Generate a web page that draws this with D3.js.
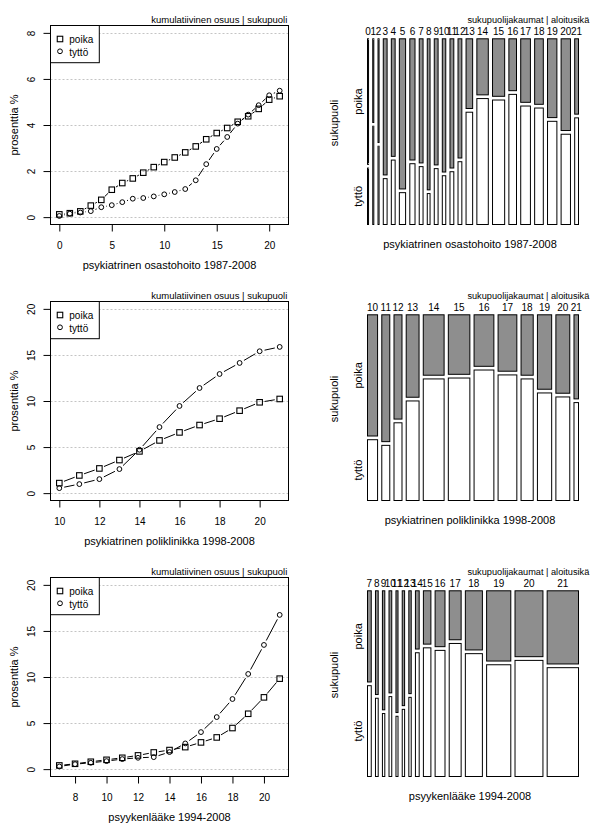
<!DOCTYPE html>
<html><head><meta charset="utf-8">
<script src="https://cdn.jsdelivr.net/npm/d3@7"></script>
<style>
body{margin:0;background:#fff}
svg{display:block}
text{font-family:"Liberation Sans",Arial,sans-serif;fill:#000}
</style>
</head><body>
<script>
// ---------- DATA ----------
// cumulative share (%) by starting age, panel 1: psykiatrinen osastohoito 1987-2008
const ages1 = [0,1,2,3,4,5,6,7,8,9,10,11,12,13,14,15,16,17,18,19,20,21];
const poika1 = [0.12,0.17,0.25,0.5,0.75,1.19,1.48,1.68,1.93,2.17,2.39,2.59,2.81,3.07,3.38,3.65,3.87,4.14,4.38,4.7,5.1,5.25];
const tytto1 = [0.05,0.15,0.2,0.26,0.43,0.52,0.65,0.8,0.83,0.9,0.99,1.09,1.22,1.6,2.3,2.96,3.48,4.06,4.45,4.86,5.29,5.49];
// panel 2: psykiatrinen poliklinikka 1998-2008
const ages2 = [10,11,12,13,14,15,16,17,18,19,20,21];
const poika2 = [1.09,1.92,2.68,3.59,4.53,5.72,6.59,7.39,8.08,8.95,9.86,10.22];
const tytto2 = [0.54,0.98,1.52,2.61,4.71,7.17,9.46,11.41,12.93,14.13,15.4,15.87];
// panel 3: psyykenlääke 1994-2008
const ages3 = [7,8,9,10,11,12,13,14,15,16,17,18,19,20,21];
const poika3 = [0.4,0.58,0.8,1.01,1.23,1.49,1.81,2.07,2.39,2.9,3.44,4.46,6.01,7.79,9.82];
const tytto3 = [0.29,0.54,0.69,0.87,1.09,1.23,1.3,1.85,2.79,4.02,5.65,7.61,10.33,13.48,16.74];

// mosaic: relative size of each age group and share of girls (tyttö)
const size1 = [1,1,1,3.67,3.67,6,5,3.67,2.67,3.67,3.33,3.67,3.67,6.33,11,11.67,7.33,9.33,8.33,9,9,3.67];
const girl1 = [0.31,0.54,0.43,0.252,0.354,0.175,0.334,0.318,0.17,0.307,0.268,0.29,0.345,0.617,0.692,0.684,0.715,0.651,0.64,0.567,0.496,0.586];
const size2 = [9.67,7.67,7.67,12.33,20,20.67,19,18,11.67,13.67,13.33,4.33];
const girl2 = [0.334,0.303,0.427,0.547,0.668,0.673,0.717,0.69,0.668,0.591,0.569,0.538];
const size3 = [3.67,2.67,2.33,2.67,2,2.33,2.33,3.67,7.33,9.67,11.67,16.67,23.67,27.33,30.67];
const girl3 = [0.499,0.43,0.346,0.439,0.331,0.369,0.435,0.68,0.707,0.693,0.731,0.675,0.614,0.638,0.598];

// axis ticks
const xTicks1 = [0,5,10,15,20], yTicks1 = [0,2,4,6,8];
const xTicks2 = [10,12,14,16,18,20], yTicks2 = [0,5,10,15,20];
const xTicks3 = [8,10,12,14,16,18,20], yTicks3 = [0,5,10,15,20];

const xLabels = ["psykiatrinen osastohoito 1987-2008","psykiatrinen poliklinikka 1998-2008","psyykenlääke 1994-2008"];
const seriesNames = ["poika","tyttö"];
const leftTitle = "kumulatiivinen osuus | sukupuoli";
const rightTitle = "sukupuolijakaumat | aloitusikä";
const yLabelLeft = "prosenttia %";
const yLabelRight = "sukupuoli";

// ---------- DRAW ----------
const svg = d3.select("body").append("svg").attr("width",604).attr("height",828);
const rowH = 276;
const BL = 50.5, BR = 288.5, BT = 25.5, BB = 224.5;

function expand(lo, hi){ const d=(hi-lo)*0.04; return [lo-d, hi+d]; }

function linePanel(row, ages, poika, tytto, xTicks, yTicks, yMax, xlabel){
  const g = svg.append("g").attr("transform",`translate(0,${row*rowH})`);
  const x = d3.scaleLinear().domain(expand(d3.min(ages), d3.max(ages))).range([BL,BR]);
  const y = d3.scaleLinear().domain(expand(0, yMax)).range([BB,BT]);
  // grid
  g.selectAll("line.grid").data(yTicks).enter().append("line")
    .attr("x1",BL).attr("x2",BR).attr("y1",d=>Math.round(y(d))+0.5).attr("y2",d=>Math.round(y(d))+0.5)
    .attr("stroke","#c4c4c4").attr("stroke-dasharray","2,2").attr("stroke-width",1);
  // series
  const gap = 5;
  [[poika,"sq"],[tytto,"ci"]].forEach(([vals,shape])=>{
    const pts = ages.map((a,i)=>[x(a), y(vals[i])]);
    for(let i=0;i<pts.length-1;i++){
      const [x1,y1]=pts[i],[x2,y2]=pts[i+1];
      const dx=x2-x1, dy=y2-y1, d=Math.hypot(dx,dy);
      if(d>2*gap+0.5){
        const ux=dx/d, uy=dy/d;
        g.append("line").attr("x1",x1+ux*gap).attr("y1",y1+uy*gap)
          .attr("x2",x2-ux*gap).attr("y2",y2-uy*gap)
          .attr("stroke","#000").attr("stroke-width",1);
      }
    }
    if(shape==="sq"){
      g.selectAll(null).data(pts).enter().append("rect")
        .attr("x",p=>p[0]-2.75).attr("y",p=>p[1]-2.75).attr("width",5.5).attr("height",5.5)
        .attr("fill","none").attr("stroke","#000").attr("stroke-width",1.1);
    } else {
      g.selectAll(null).data(pts).enter().append("circle")
        .attr("cx",p=>p[0]).attr("cy",p=>p[1]).attr("r",2.4)
        .attr("fill","none").attr("stroke","#000").attr("stroke-width",1);
    }
  });
  // box
  g.append("rect").attr("x",BL).attr("y",BT).attr("width",BR-BL).attr("height",BB-BT)
    .attr("fill","none").attr("stroke","#000").attr("stroke-width",1);
  // x axis
  const xa = g.append("g").attr("transform",`translate(0,${BB})`)
    .call(d3.axisBottom(x).tickValues(xTicks).tickSize(7).tickFormat(d3.format("d")));
  xa.select(".domain").remove();
  xa.selectAll("line").attr("stroke","#000");
  xa.selectAll("text").attr("y",24).attr("dy",null).attr("font-size",10).attr("font-family",null);
  // y axis
  const ya = g.append("g").attr("transform",`translate(${BL},0)`)
    .call(d3.axisLeft(y).tickValues(yTicks).tickSize(7).tickFormat(d3.format("d")));
  ya.select(".domain").remove();
  ya.selectAll("line").attr("stroke","#000");
  ya.selectAll("text").attr("x",null).attr("dy",null).attr("font-size",10).attr("font-family",null)
    .attr("text-anchor","middle").attr("transform","translate(-16,0) rotate(-90)");
  // legend
  const lg = g.append("g").attr("transform",`translate(${BL},${BT})`);
  lg.append("rect").attr("x",0).attr("y",0).attr("width",48.8).attr("height",37.2)
    .attr("fill","#fff").attr("stroke","#000").attr("stroke-width",1);
  lg.append("rect").attr("x",9.5-2.75).attr("y",13.5-2.75).attr("width",5.5).attr("height",5.5)
    .attr("fill","none").attr("stroke","#000").attr("stroke-width",1.1);
  lg.append("circle").attr("cx",9.5).attr("cy",25.8).attr("r",2.4)
    .attr("fill","none").attr("stroke","#000");
  lg.selectAll("text.lt").data(seriesNames).enter().append("text")
    .attr("x",18.8).attr("y",(d,i)=>17.8+i*12.4).attr("font-size",10).text(d=>d);
  // labels
  g.append("text").attr("x",BR-1.2).attr("y",BT-2.5).attr("text-anchor","end")
    .attr("font-size",9.5).text(leftTitle);
  g.append("text").attr("x",(BL+BR)/2).attr("y",BB+44.5).attr("text-anchor","middle")
    .attr("font-size",11).text(xlabel);
  g.append("text").attr("transform",`translate(17.5,${(BT+BB)/2}) rotate(-90)`)
    .attr("text-anchor","middle").attr("font-size",11).text(yLabelLeft);
}

function mosaicPanel(row, ages, sizes, girls, xlabel){
  const g = svg.append("g").attr("transform",`translate(0,${row*rowH})`);
  const mx1 = 367.5, mx2 = 578.5, my1 = 38.8, my2 = 224.5;
  const n = ages.length;
  const W = mx2-mx1, H = my2-my1;
  const off = 0.02*(n-1);
  const white = 0.02*W;
  const tot = d3.sum(sizes);
  const colW = d3.scaleLinear().domain([0,tot]).range([0,(1-off)*W]);
  const hy = d3.scaleLinear().domain([0,1]).range([0,0.98*H]);
  const whiteY = 0.02*H;
  let xl = mx1;
  const cols = ages.map((a,i)=>{
    const w = colW(sizes[i]);
    const c = {age:a, x:xl, w:w, gh:hy(girls[i]), bh:hy(1-girls[i])};
    xl += w + white;
    return c;
  });
  // poika (top, grey)
  g.selectAll("rect.p").data(cols).enter().append("rect")
    .attr("x",c=>c.x).attr("y",my1).attr("width",c=>c.w).attr("height",c=>c.bh)
    .attr("fill","#8e8e8e").attr("stroke","#000").attr("stroke-width",1);
  // tyttö (bottom, white)
  g.selectAll("rect.t").data(cols).enter().append("rect")
    .attr("x",c=>c.x).attr("y",c=>my2-c.gh).attr("width",c=>c.w).attr("height",c=>c.gh)
    .attr("fill","#fff").attr("stroke","#000").attr("stroke-width",1);
  // age labels
  g.selectAll("text.age").data(cols).enter().append("text")
    .attr("x",c=>c.x+c.w/2).attr("y",my1-3.5).attr("text-anchor","middle")
    .attr("font-size",10).text(c=>c.age);
  // level labels from first column
  const c0 = cols[0];
  g.append("text").attr("transform",`translate(362,${my1+c0.bh/2}) rotate(-90)`)
    .attr("text-anchor","middle").attr("font-size",11).text(seriesNames[0]);
  g.append("text").attr("transform",`translate(362,${my2-c0.gh/2}) rotate(-90)`)
    .attr("text-anchor","middle").attr("font-size",11).text(seriesNames[1]);
  g.append("text").attr("transform",`translate(338,${(BT+BB)/2-2}) rotate(-90)`)
    .attr("text-anchor","middle").attr("font-size",11).text(yLabelRight);
  g.append("text").attr("x",589.3).attr("y",BT-2.3).attr("text-anchor","end")
    .attr("font-size",9.2).text(rightTitle);
  g.append("text").attr("x",470).attr("y",my2+23).attr("text-anchor","middle")
    .attr("font-size",11).text(xlabel);
}

linePanel(0, ages1, poika1, tytto1, xTicks1, yTicks1, 8, xLabels[0]);
linePanel(1, ages2, poika2, tytto2, xTicks2, yTicks2, 20, xLabels[1]);
linePanel(2, ages3, poika3, tytto3, xTicks3, yTicks3, 20, xLabels[2]);
mosaicPanel(0, ages1, size1, girl1, xLabels[0]);
mosaicPanel(1, ages2, size2, girl2, xLabels[1]);
mosaicPanel(2, ages3, size3, girl3, xLabels[2]);
</script>
</body></html>
